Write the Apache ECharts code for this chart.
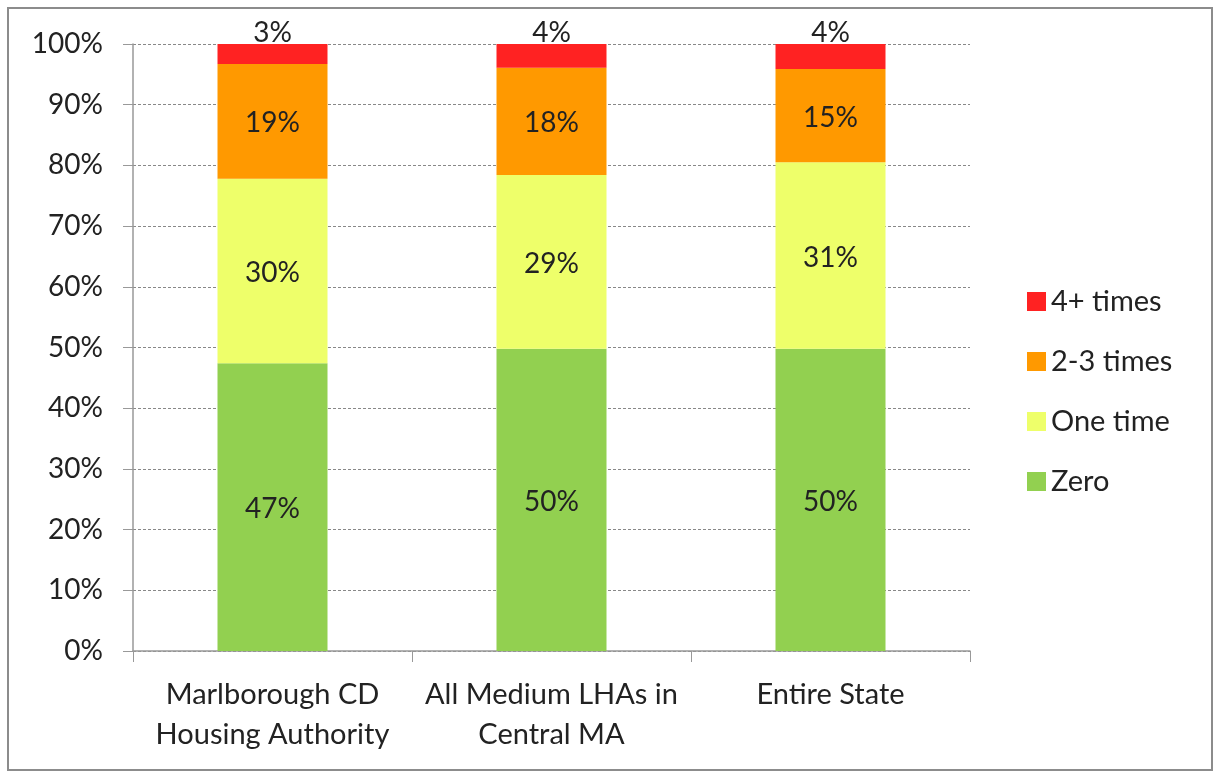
<!DOCTYPE html>
<html>
<head>
<meta charset="utf-8">
<script src="https://cdn.jsdelivr.net/npm/echarts@6/dist/echarts.min.js"></script>
<style>
html,body{margin:0;padding:0;background:#fff;}
#chart{width:1214px;height:772px;}
</style>
</head>
<body>
<div id="chart"></div>
<script>
const categories = ['Marlborough CD\nHousing Authority', 'All Medium LHAs in\nCentral MA', 'Entire State'];
const zero = [47.4, 49.8, 49.8];
const oneTime = [30.4, 28.6, 30.7];
const twoThree = [18.9, 17.7, 15.4];
const fourPlus = [3.3, 3.9, 4.1];
const yTicks = [0, 10, 20, 30, 40, 50, 60, 70, 80, 90, 100];

const FONT = 'Lato';
const chart = echarts.init(document.getElementById('chart'));
const inLabel = {
  show: true, position: 'inside', offset: [0, 2], color: '#222', fontFamily: FONT, fontSize: 28,
  formatter: p => Math.round(p.value) + '%'
};
function ser(name, data, color, label) {
  return { name, type: 'bar', stack: 'total', data, barWidth: 110,
    itemStyle: { color }, label: label || inLabel, emphasis: { disabled: true } };
}
chart.setOption({
  animation: false,
  graphic: [{ type: 'rect', shape: { x: 8, y: 8, width: 1204, height: 762 },
    style: { fill: 'none', stroke: '#8c8c8c', lineWidth: 2 } }],
  grid: { left: 133, top: 44, right: 244, bottom: 121 },
  legend: {
    orient: 'vertical', left: 1022, top: 282, itemWidth: 19, itemHeight: 19, itemGap: 31,
    icon: 'rect',
    textStyle: { fontFamily: FONT, fontSize: 29, color: '#222' },
    data: ['4+ times', '2-3 times', 'One time', 'Zero']
  },
  xAxis: {
    type: 'category', data: categories,
    axisLine: { lineStyle: { color: '#999', width: 1.5 } },
    axisTick: { show: true, length: 11, alignWithLabel: false, lineStyle: { color: '#999' } },
    axisLabel: { fontFamily: FONT, fontSize: 29, color: '#222', margin: 24, lineHeight: 40, interval: 0 }
  },
  yAxis: {
    type: 'value', min: 0, max: 100, interval: 10,
    axisLine: { show: true, lineStyle: { color: '#999', width: 1.5 } },
    axisTick: { show: true, length: 10, lineStyle: { color: '#999' } },
    splitLine: { lineStyle: { color: '#888', type: [3, 2], width: 1 } },
    axisLabel: { fontFamily: FONT, fontSize: 28, color: '#222', margin: 30,
      formatter: v => yTicks.includes(v) ? v + '%' : '' }
  },
  series: [
    ser('Zero', zero, '#92D050'),
    ser('One time', oneTime, '#EEFF6A'),
    ser('2-3 times', twoThree, '#FF9900'),
    ser('4+ times', fourPlus, '#FF2222', { ...inLabel, offset: [0, 0], position: 'top', distance: -3 })
  ]
});
</script>
</body>
</html>
